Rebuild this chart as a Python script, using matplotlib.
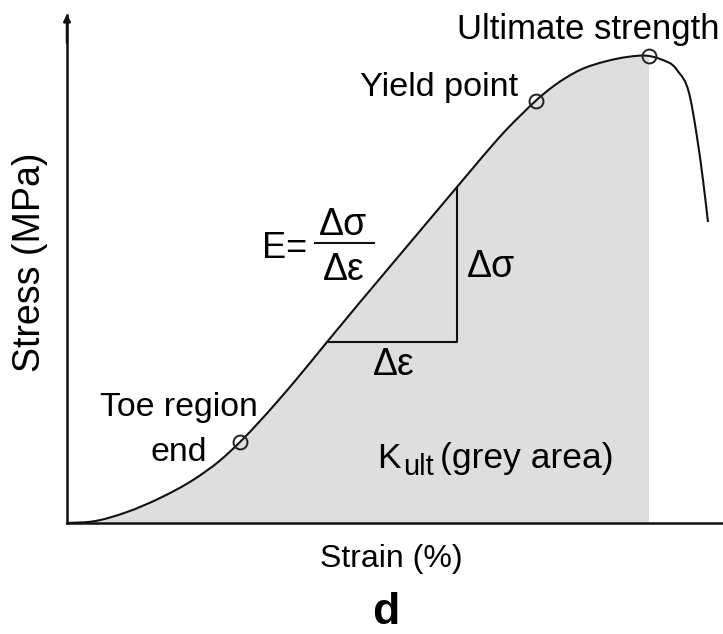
import matplotlib
matplotlib.use("Agg")
import matplotlib.pyplot as plt
from matplotlib.path import Path
from matplotlib.patches import PathPatch
import numpy as np

plt.rcParams['font.family'] = ['Liberation Sans', 'DejaVu Sans']

# Stress-strain curve (arbitrary units)
strain = [0, 26, 60, 93, 126, 153, 173, 193, 213, 228, 260, 390, 406, 423,
          440, 456, 469, 486, 513, 540, 560, 582, 593, 610, 623, 630, 636, 641]
stress = [0, 1.6, 11, 25, 43, 62.5, 81, 102, 124.5, 142, 181, 336, 355, 375,
          394, 410, 422.5, 436.5, 453, 462, 466, 467, 464, 453, 426, 386, 343, 301]

# Key points
key_strain = [173, 469, 582]
key_stress = [81, 422.5, 467]
key_names = ["Toe region\nend", "Yield point", "Ultimate strength"]

# Slope triangle
tri_strain = [260, 390, 390]
tri_stress = [181, 181, 336]

ult_strain = 582

W, H = 723, 634
fig = plt.figure(figsize=(W/100, H/100), dpi=100)
ax = fig.add_axes([67/W, (H-523)/H, 656/W, (523-15)/H])
ax.set_xlim(0, 656)
ax.set_ylim(0, 508)
ax.set_xticks([])
ax.set_yticks([])
for s in ['top', 'right']:
    ax.spines[s].set_visible(False)
for s in ['left', 'bottom']:
    ax.spines[s].set_linewidth(1.8)
    ax.spines[s].set_color('#111111')


def smooth_path(xs, ys):
    """Piecewise cubic Hermite through the read points, drawn as Bezier path."""
    x = np.asarray(xs, float)
    y = np.asarray(ys, float)
    h = np.diff(x)
    d = np.diff(y) / h
    m = np.empty_like(x)
    m[0] = d[0]
    m[-1] = d[-1]
    for i in range(1, len(x) - 1):
        m[i] = (d[i - 1] * h[i] + d[i] * h[i - 1]) / (h[i - 1] + h[i])
    verts = [(x[0], y[0])]
    codes = [Path.MOVETO]
    for i in range(len(x) - 1):
        verts += [(x[i] + h[i] / 3, y[i] + m[i] * h[i] / 3),
                  (x[i + 1] - h[i] / 3, y[i + 1] - m[i + 1] * h[i] / 3),
                  (x[i + 1], y[i + 1])]
        codes += [Path.CURVE4] * 3
    return verts, codes


k = strain.index(ult_strain)
v, c = smooth_path(strain, stress)
v_fill = v[:1 + 3 * k] + [(ult_strain, 0.0), (0.0, 0.0), (0.0, 0.0)]
c_fill = c[:1 + 3 * k] + [Path.LINETO, Path.LINETO, Path.CLOSEPOLY]
ax.add_patch(PathPatch(Path(v_fill, c_fill), facecolor='#dedede', edgecolor='none', zorder=1))
ax.add_patch(PathPatch(Path(v, c), facecolor='none', edgecolor='#111111', lw=1.5, zorder=3))

ax.plot(tri_strain, tri_stress, color='#111111', lw=1.5, zorder=3)
ax.plot(key_strain, key_stress, 'o', ms=10, mfc='none', mec='#222222', mew=1.4, zorder=4)

# arrow head on y axis
ax.annotate('', xy=(0, 509), xytext=(0, 480),
            arrowprops=dict(arrowstyle='-|>', color='#111111', lw=1.8,
                            mutation_scale=10, shrinkA=0, shrinkB=0),
            annotation_clip=False)


def ptext(x, y, s, **kw):
    kw.setdefault('va', 'baseline')
    return fig.text(x / W, 1 - y / H, s, **kw)


ptext(588, 39, key_names[2], fontsize=25, ha='center')
ptext(518, 96, key_names[1], fontsize=24.7, ha='right')
ptext(179, 416, "Toe region", fontsize=24.4, ha='center')
ptext(179, 461, "end", fontsize=24.4, ha='center')

# K_ult label
ptext(377, 468, 'K', fontsize=25.5, ha='left')
ptext(403, 475, 'ult', fontsize=21, ha='left')
ptext(440, 468, '(grey area)', fontsize=25.5, ha='left')

# Modulus formula
ptext(262, 258, 'E=', fontsize=26, ha='left')
ptext(343, 235, 'Δσ', fontsize=27, ha='center')
ptext(344, 280, 'Δε', fontsize=27, ha='center')
ax.plot([248, 307], [280, 280], color='#111111', lw=1.5)
ptext(491, 277, 'Δσ', fontsize=27, ha='center')
ptext(394, 375, 'Δε', fontsize=27, ha='center')

ptext(30, 262, 'Stress (MPa)', fontsize=27, rotation=90, ha='center', va='center')
ptext(391, 567, 'Strain (%)', fontsize=23, ha='center')
ptext(386, 624, 'd', fontsize=32, fontweight='bold', ha='center')

fig.savefig('out.png', dpi=100)
